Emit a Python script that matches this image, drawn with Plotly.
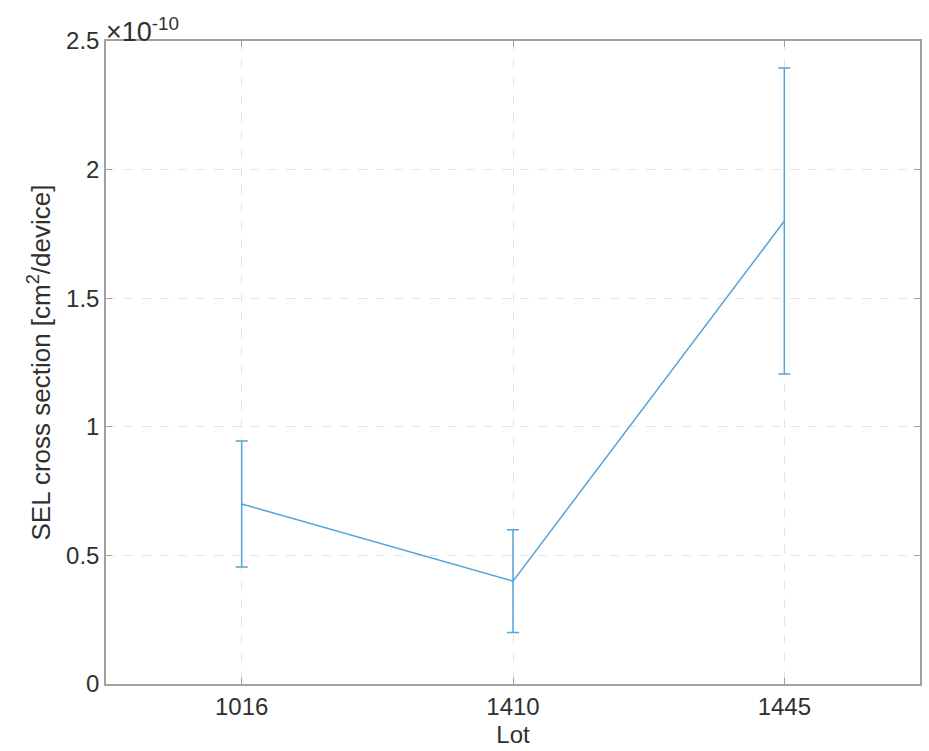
import plotly.graph_objects as go

lots = ["1016", "1410", "1445"]
sel_cs = [0.70e-10, 0.40e-10, 1.80e-10]
err_plus = [0.245e-10, 0.20e-10, 0.595e-10]
err_minus = [0.245e-10, 0.20e-10, 0.595e-10]
y_tickvals = [0, 0.5e-10, 1.0e-10, 1.5e-10, 2.0e-10, 2.5e-10]
y_ticktext = ["0", "0.5", "1", "1.5", "2", "2.5"]

line_color = "#56a3d8"
axis_color = "#a0a0a0"
text_color = "#303030"
font_family = "Liberation Sans, Arial, sans-serif"

fig = go.Figure()
fig.add_trace(go.Scatter(
    x=lots, y=sel_cs, mode="lines",
    line=dict(color=line_color, width=1.5),
    error_y=dict(type="data", symmetric=False, array=err_plus, arrayminus=err_minus,
                 color=line_color, thickness=1.5, width=6),
    showlegend=False,
))

fig.update_layout(
    width=929, height=751,
    margin=dict(l=106, r=7, t=41, b=67),
    paper_bgcolor="white", plot_bgcolor="white",
    font=dict(family=font_family, size=24, color=text_color),
    xaxis=dict(
        type="category", range=[-0.5, 2.5],
        showline=True, linecolor=axis_color, linewidth=1.5, mirror="ticks",
        ticks="inside", ticklen=6, tickcolor=axis_color, tickwidth=1,
        showgrid=True, gridcolor="#e4e4e4", griddash="dash", gridwidth=1,
        title=dict(text="Lot", standoff=8, font=dict(size=24)),
        tickfont=dict(size=24), zeroline=False,
    ),
    yaxis=dict(
        range=[0, 2.5e-10], tickvals=y_tickvals, ticktext=y_ticktext,
        showline=True, linecolor=axis_color, linewidth=1.5, mirror="ticks",
        ticks="inside", ticklen=6, tickcolor=axis_color, tickwidth=1,
        showgrid=True, gridcolor="#e4e4e4", griddash="dash", gridwidth=1,
        title=dict(text="SEL cross section [cm<sup>2</sup>/device]", standoff=8, font=dict(size=26)),
        tickfont=dict(size=24), zeroline=False,
    ),
    annotations=[dict(
        text="×10<sup>-10</sup>", xref="paper", yref="paper", x=0.0, y=1.0,
        xanchor="left", yanchor="bottom", showarrow=False,
        font=dict(size=27, color=text_color), xshift=-2, yshift=-8,
    )],
)

fig.write_html("out.html")
